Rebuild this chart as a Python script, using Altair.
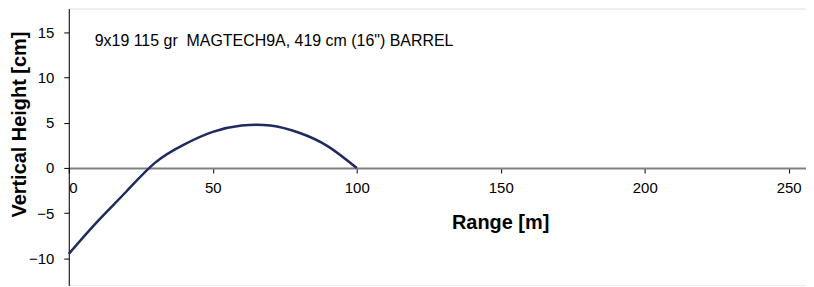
import altair as alt
import pandas as pd

# Trajectory data
range_m = [0, 10, 20, 30, 40, 50, 60, 70, 80, 90, 100]
height_cm = [-9.5, -5.9, -2.6, 0.6, 2.6, 4.0, 4.7, 4.7, 3.9, 2.4, 0.0]

x_ticks = [0, 50, 100, 150, 200, 250]
y_ticks = [-10, -5, 0, 5, 10, 15]

annotation_text = ["9x19 115 gr\u00a0 MAGTECH9A, 419 cm (16\") BARREL"]
annotation_x = [9]
annotation_y = [14]

X_DOMAIN = [0, 256]
Y_DOMAIN = [-13, 17.65]
W, H = 740, 278

zero_px = H * (Y_DOMAIN[1] - 0) / (Y_DOMAIN[1] - Y_DOMAIN[0])
x_offset = -(H - zero_px)

df = pd.DataFrame({"range": range_m, "height": height_cm})
ann = pd.DataFrame({"t": annotation_text, "x": annotation_x, "y": annotation_y})

FONT = "Liberation Sans"

xscale = alt.Scale(domain=X_DOMAIN, nice=False, zero=False)
yscale = alt.Scale(domain=Y_DOMAIN, nice=False, zero=False)

line = alt.Chart(df).mark_line(
    color="#1f2a5e", strokeWidth=2.5, interpolate="natural"
).encode(
    x=alt.X("range:Q", scale=xscale,
            axis=alt.Axis(
                values=x_ticks, offset=x_offset, grid=False,
                domainColor="#808080", domainWidth=2,
                tickColor="#000000", tickSize=5, tickWidth=1,
                labelFont=FONT, labelFontSize=15, labelColor="#000000",
                labelPadding=8,
                title="Range [m]", titleFont=FONT, titleFontSize=20,
                titleFontWeight="bold", titleColor="#000000",
                titleX=433, titleY=61, titleBaseline="alphabetic",
                titleAlign="center", titleAnchor="start",
            )),
    y=alt.Y("height:Q", scale=yscale,
            axis=alt.Axis(
                values=y_ticks, grid=False,
                domainColor="#000000", domainWidth=1,
                tickColor="#000000", tickSize=5, tickWidth=1,
                labelFont=FONT, labelFontSize=15, labelColor="#000000",
                labelPadding=10,
                title="Vertical Height [cm]", titleFont=FONT, titleFontSize=20,
                titleFontWeight="bold", titleColor="#000000",
                titleX=-43, titleY=116, titleBaseline="alphabetic",
                titleAlign="center", titleAnchor="start", titleAngle=270,
            )),
)

text = alt.Chart(ann).mark_text(
    align="left", baseline="middle", font=FONT, fontSize=16, color="#000000"
).encode(
    x=alt.X("x:Q", scale=xscale),
    y=alt.Y("y:Q", scale=yscale),
    text="t:N",
)

chart = alt.layer(line, text).properties(
    width=W, height=H,
    autosize=alt.AutoSizeParams(type="none"),
    padding={"left": 61, "top": 0, "right": 0, "bottom": 0},
).configure_view(stroke=None).configure(background="white")

chart.save("out.html", embed_options={"renderer": "svg", "actions": False})
